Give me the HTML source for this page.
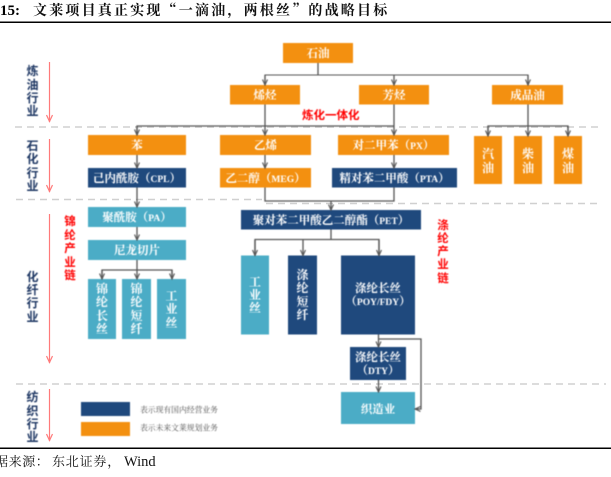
<!DOCTYPE html>
<html lang="zh">
<head>
<meta charset="utf-8">
<style>
html,body{margin:0;padding:0;background:#fff;width:611px;height:477px;overflow:hidden}
svg{display:block}
.b{font-family:"Liberation Serif","Noto Serif CJK SC",serif;font-weight:700;fill:#fff;font-size:11.5px;text-anchor:middle}
.b tspan{font-size:9.5px}
.v{font-family:"Noto Serif CJK SC","Liberation Serif",serif;font-weight:700;fill:#fff;font-size:12px;text-anchor:middle}
.l{font-family:"Noto Sans CJK SC",sans-serif;font-weight:700;fill:#1f3864;font-size:12px;text-anchor:middle}
.r{font-family:"Noto Sans CJK SC",sans-serif;font-weight:700;fill:#f00;font-size:11.5px;text-anchor:middle}
.g{font-family:"Noto Serif CJK SC",serif;fill:#555;font-size:7.8px}
.blur{filter:blur(.45px)}
</style>
</head>
<body>
<svg width="611" height="477" viewBox="0 0 611 477" xmlns="http://www.w3.org/2000/svg">
<defs>
<marker id="a" markerWidth="7" markerHeight="6" refX="6" refY="3" orient="auto" markerUnits="userSpaceOnUse"><path d="M0.5 0.5L6 3L0.5 5.5" fill="none" stroke="#555" stroke-width="1.1"/></marker>
<marker id="ra" markerWidth="9" markerHeight="7" refX="8" refY="3.5" orient="auto" markerUnits="userSpaceOnUse"><path d="M1 0.5L7.5 3.5L1 6.5" fill="none" stroke="#ff7a7a" stroke-width="1.2"/></marker>
</defs>

<!-- title -->
<text x="0" y="15" font-family="Liberation Serif" font-weight="700" font-size="15" fill="#000">15:</text>
<text x="33" y="15" font-family="'Noto Serif CJK SC',serif" font-weight="700" font-size="14" letter-spacing="2.2" fill="#111">文莱项目真正实现“一滴油，两根丝”的战略目标</text>
<rect x="0" y="21.5" width="611" height="1.5" fill="#000"/>
<rect x="0" y="447.5" width="611" height="1.5" fill="#000"/>
<text x="-5" y="466" font-family="'Noto Serif CJK SC',serif" font-size="13" letter-spacing="0.6" fill="#111">据来源：</text>
<text x="52" y="466" font-family="'Noto Serif CJK SC',serif" font-size="13" letter-spacing="0.8" fill="#111">东北证券，</text>
<text x="124" y="466" font-family="Liberation Serif" font-size="14.5" fill="#111">Wind</text>

<!-- dashes -->
<g stroke="#d0d0d0" stroke-width="1.4" stroke-dasharray="7 5" fill="none">
<path d="M15 127H600"/>
<path d="M16 199.500H262"/>
<path d="M266 203.500H600"/>
<path d="M16 384H606"/>
</g>

<!-- red arrows -->
<g stroke="#ff7a7a" stroke-width="1.2" fill="none">
<path d="M49.500 62V122" marker-end="url(#ra)"/>
<path d="M49.500 139V192" marker-end="url(#ra)"/>
<path d="M49.500 214V363" marker-end="url(#ra)"/>
<path d="M49.500 389V441" marker-end="url(#ra)"/>
</g>

<g class="blur">
<!-- boxes -->
<g fill="#f39010">
<rect x="283" y="43" width="70" height="20"/>
<rect x="230" y="85" width="70" height="19.500"/>
<rect x="359" y="85" width="70" height="19.500"/>
<rect x="492" y="85" width="71" height="19.500"/>
<rect x="88" y="135" width="98" height="20"/>
<rect x="220" y="135" width="91" height="20"/>
<rect x="338" y="135" width="111" height="20"/>
<rect x="220" y="168" width="91" height="19.500"/>
<rect x="474" y="136" width="28" height="48"/>
<rect x="514" y="136" width="28" height="48"/>
<rect x="554" y="136" width="28" height="48"/>
<rect x="81" y="422" width="49" height="14"/>
</g>
<g fill="#1f497d">
<rect x="88" y="168" width="98" height="19.500"/>
<rect x="332" y="168" width="125" height="19.500"/>
<rect x="241" y="210" width="180" height="19.500"/>
<rect x="288" y="255.500" width="29" height="79"/>
<rect x="341" y="255.500" width="74" height="79"/>
<rect x="350" y="347" width="56" height="33"/>
<rect x="81" y="402" width="49" height="14"/>
</g>
<g fill="#4bacc6">
<rect x="88" y="207" width="98" height="20"/>
<rect x="88" y="240" width="98" height="20"/>
<rect x="88" y="279" width="28" height="60"/>
<rect x="122" y="279" width="29" height="60"/>
<rect x="157" y="279" width="29" height="60"/>
<rect x="241" y="255.500" width="28" height="79"/>
<rect x="341" y="392" width="74" height="32"/>
</g>

<!-- connectors -->
<g stroke="#555" stroke-width="1.3" fill="none">
<path d="M318 63V75"/>
<path d="M265 85V75H528V85" stroke-width="1.1"/>
<path d="M265 75V85" marker-end="url(#a)"/>
<path d="M394 75V85" marker-end="url(#a)"/>
<path d="M528 75V85" marker-end="url(#a)"/>
<path d="M137 135V126H394"/>
<path d="M137 126V135" marker-end="url(#a)"/>
<path d="M265 104.500V135" marker-end="url(#a)"/>
<path d="M394 104.500V135" marker-end="url(#a)"/>
<path d="M488 136V126H568V136"/>
<path d="M528 104.500V136" marker-end="url(#a)"/>
<path d="M488 126V136" marker-end="url(#a)"/>
<path d="M568 126V136" marker-end="url(#a)"/>
<path d="M137 155V168" marker-end="url(#a)"/>
<path d="M265 155V168" marker-end="url(#a)"/>
<path d="M394 155V168" marker-end="url(#a)"/>
<path d="M137 187.500V207" marker-end="url(#a)"/>
<path d="M137 227V240" marker-end="url(#a)"/>
<path d="M265 187.500V201H394V187.500"/>
<path d="M331 201V210" marker-end="url(#a)"/>
<path d="M137 260V279" marker-end="url(#a)"/>
<path d="M102 279V270H172V279"/>
<path d="M102 270V279" marker-end="url(#a)"/>
<path d="M172 270V279" marker-end="url(#a)"/>
<path d="M331 229.500V239.500"/>
<path d="M255 255.500V239.500H379V255.500"/>
<path d="M255 240V255.500" marker-end="url(#a)"/>
<path d="M303 240V255.500" marker-end="url(#a)"/>
<path d="M379 240V255.500" marker-end="url(#a)"/>
<path d="M378.500 334.500V347" marker-end="url(#a)"/>
<path d="M378.500 380V392" marker-end="url(#a)"/>
<path d="M378.500 339H421V409H415" marker-end="url(#a)"/>
</g>

<!-- box labels -->
<text class="b" x="318" y="57">石油</text>
<text class="b" x="265" y="99">烯烃</text>
<text class="b" x="394" y="99">芳烃</text>
<text class="b" x="527.500" y="99">成品油</text>
<text class="b" x="137" y="149">苯</text>
<text class="b" x="265.500" y="149">乙烯</text>
<text class="b" x="393.500" y="149">对二甲苯（<tspan>PX</tspan>）</text>
<text class="b" x="137" y="182">己内酰胺（<tspan>CPL</tspan>）</text>
<text class="b" x="265.500" y="182">乙二醇（<tspan>MEG</tspan>）</text>
<text class="b" x="394.500" y="182">精对苯二甲酸（<tspan>PTA</tspan>）</text>
<text class="b" x="137" y="221">聚酰胺（<tspan>PA</tspan>）</text>
<text class="b" x="137" y="254">尼龙切片</text>
<text class="b" x="331" y="224">聚对苯二甲酸乙二醇酯（<tspan>PET</tspan>）</text>
<text class="b" x="378" y="292">涤纶长丝</text>
<text class="b" x="378" y="305">（<tspan>POY/FDY</tspan>）</text>
<text class="b" x="378" y="361">涤纶长丝</text>
<text class="b" x="378" y="374">（<tspan>DTY</tspan>）</text>
<text class="b" x="378" y="413">织造业</text>

<g class="v">
<text x="488" y="158">汽</text><text x="488" y="172">油</text>
<text x="528" y="158">柴</text><text x="528" y="172">油</text>
<text x="568" y="158">煤</text><text x="568" y="172">油</text>
<text x="102" y="293">锦</text><text x="102" y="306">纶</text><text x="102" y="320">长</text><text x="102" y="333">丝</text>
<text x="136.500" y="293">锦</text><text x="136.500" y="306">纶</text><text x="136.500" y="320">短</text><text x="136.500" y="333">纤</text>
<text x="171.500" y="300">工</text><text x="171.500" y="313">业</text><text x="171.500" y="327">丝</text>
<text x="255" y="286">工</text><text x="255" y="299">业</text><text x="255" y="312">丝</text>
<text x="302.500" y="279">涤</text><text x="302.500" y="292">纶</text><text x="302.500" y="306">短</text><text x="302.500" y="319">纤</text>
</g>

<!-- side labels -->
<text class="l" x="32.500" y="75">炼</text><text class="l" x="32.500" y="89">油</text><text class="l" x="32.500" y="102">行</text><text class="l" x="32.500" y="115">业</text>
<text class="l" x="32.500" y="150">石</text><text class="l" x="32.500" y="163">化</text><text class="l" x="32.500" y="177">行</text><text class="l" x="32.500" y="190">业</text>
<text class="l" x="32.500" y="281">化</text><text class="l" x="32.500" y="294">纤</text><text class="l" x="32.500" y="307">行</text><text class="l" x="32.500" y="321">业</text>
<text class="l" x="32.500" y="401">纺</text><text class="l" x="32.500" y="415">织</text><text class="l" x="32.500" y="428">行</text><text class="l" x="32.500" y="441">业</text>

<!-- red labels -->
<text x="302" y="119" font-family="'Noto Sans CJK SC',sans-serif" font-weight="700" font-size="11.500" fill="#f00">炼化一体化</text>
<text class="r" x="70" y="225">锦</text><text class="r" x="70" y="239">纶</text><text class="r" x="70" y="252">产</text><text class="r" x="70" y="266">业</text><text class="r" x="70" y="279">链</text>
<text class="r" x="443" y="229">涤</text><text class="r" x="443" y="242">纶</text><text class="r" x="443" y="255">产</text><text class="r" x="443" y="268">业</text><text class="r" x="443" y="282">链</text>

<!-- legend -->
<text class="g" x="140" y="412.500">表示现有国内经营业务</text>
<text class="g" x="140" y="430.500">表示未来文莱规划业务</text>
</g>
</svg>
</body>
</html>
